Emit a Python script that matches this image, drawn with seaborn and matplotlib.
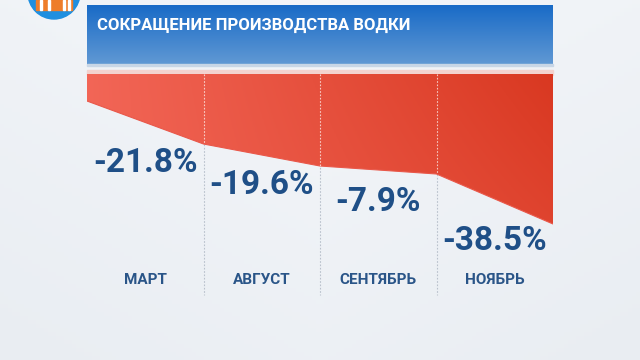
import numpy as np
import matplotlib
matplotlib.use("Agg")
import matplotlib.pyplot as plt
import seaborn as sns
from matplotlib.patches import Circle, Rectangle

# ---- data ----
title = "СОКРАЩЕНИЕ ПРОИЗВОДСТВА ВОДКИ"
months = ["МАРТ", "АВГУСТ", "СЕНТЯБРЬ", "НОЯБРЬ"]
changes = [-21.8, -19.6, -7.9, -38.5]
area_edge = [27, 70, 92, 100, 150]   # depth of the red band's lower edge at segment boundaries

sns.set_theme(style="white")
plt.rcParams['font.family'] = ['Roboto', 'DejaVu Sans']

W, H = 640, 360
fig = plt.figure(figsize=(6.4, 3.6), dpi=100)

# background axes in pixel coordinates
bg = fig.add_axes([0, 0, 1, 1])
bg.set_xlim(0, W)
bg.set_ylim(H, 0)
bg.axis("off")
yy, xx = np.mgrid[0:1:90j, 0:1:160j]
g = 0.5 * yy + 0.5 * np.abs(xx - 0.5)
c0 = np.array([0.955, 0.965, 0.978])
c1 = np.array([0.900, 0.918, 0.940])
img = c0[None, None, :] * (1 - g[..., None]) + c1[None, None, :] * g[..., None]
bg.imshow(img, extent=[0, W, H, 0], aspect="auto", zorder=0)

# title banner with vertical blue gradient
t = np.linspace(0, 1, 60)[:, None]
top = np.array([0.10, 0.42, 0.78])
bot = np.array([0.38, 0.60, 0.83])
band = top[None, :] * (1 - t) + bot[None, :] * t
band = np.repeat(band[:, None, :], 2, axis=1)
bg.imshow(band, extent=[87, 553, 65, 5], aspect="auto", zorder=1)
bg.add_patch(Rectangle((87, 64), 466, 2, color="#c8d6e6", zorder=1))
bg.add_patch(Rectangle((87, 70), 466, 5, color="#f3d3cf", zorder=1))
bg.text(97, 25, title, color="white", fontsize=12, fontweight="bold",
        va="center", ha="left", zorder=3)

# channel logo (partial)
bg.add_patch(Circle((54, -7), 26, color="#1f8fe0", zorder=3))
bg.add_patch(Rectangle((36, 0), 36, 10, color="#ee7d2a", zorder=4))
for sx in (40, 48, 63, 68):
    bg.add_patch(Rectangle((sx, 0), 2, 10, color="white", zorder=5))
bg.set_xlim(0, W)
bg.set_ylim(H, 0)

# main data axes
left, right, ptop, pbot = 87, 553, 74, 300
ax = fig.add_axes([left / W, 1 - pbot / H, (right - left) / W, (pbot - ptop) / H])
ax.patch.set_alpha(0)
n = len(months)
x_edges = np.arange(n + 1)

poly = ax.fill_between(x_edges, 0, area_edge, color="none", lw=0, zorder=2)
gx = np.linspace(0, 1, 200)[None, :]
gy = np.linspace(0, 1, 100)[:, None]
ga = 0.75 * gx + 0.25 * (1 - gy) * gx
cl = np.array([0.95, 0.40, 0.34])
cr = np.array([0.85, 0.22, 0.13])
red = cl[None, None, :] * (1 - ga[..., None]) + cr[None, None, :] * ga[..., None]
im = ax.imshow(red, extent=[0, n, max(area_edge), 0], aspect="auto", zorder=2)
im.set_clip_path(poly.get_paths()[0], transform=ax.transData)
sns.lineplot(x=x_edges, y=area_edge, ax=ax, color="#e9584a", lw=0.8, zorder=3)
ax.set_xlim(0, n)
ax.set_ylim(pbot - ptop, 0)
ax.axis("off")

# separators
for i in range(1, n):
    ax.plot([i, i], [0, 221], color="#b9c1cc", lw=0.8, ls=(0, (1.5, 1.5)), zorder=1)
    ax.plot([i, i], [0, area_edge[i]], color="white", alpha=0.7, lw=0.8,
            ls=(0, (1.5, 1.5)), zorder=4)

# value labels
label_depth = [89, 111, 128, 167]
for i, v in enumerate(changes):
    ax.text(i + 0.5, label_depth[i], f"{v:.1f}%", color="#1f4f87", fontsize=24,
            fontweight="bold", ha="center", va="center", zorder=5)
    ax.text(i + 0.5, 206, months[i], color="#2a5588", fontsize=11,
            fontweight="bold", ha="center", va="center", zorder=5)

fig.savefig("out.png", dpi=100)
